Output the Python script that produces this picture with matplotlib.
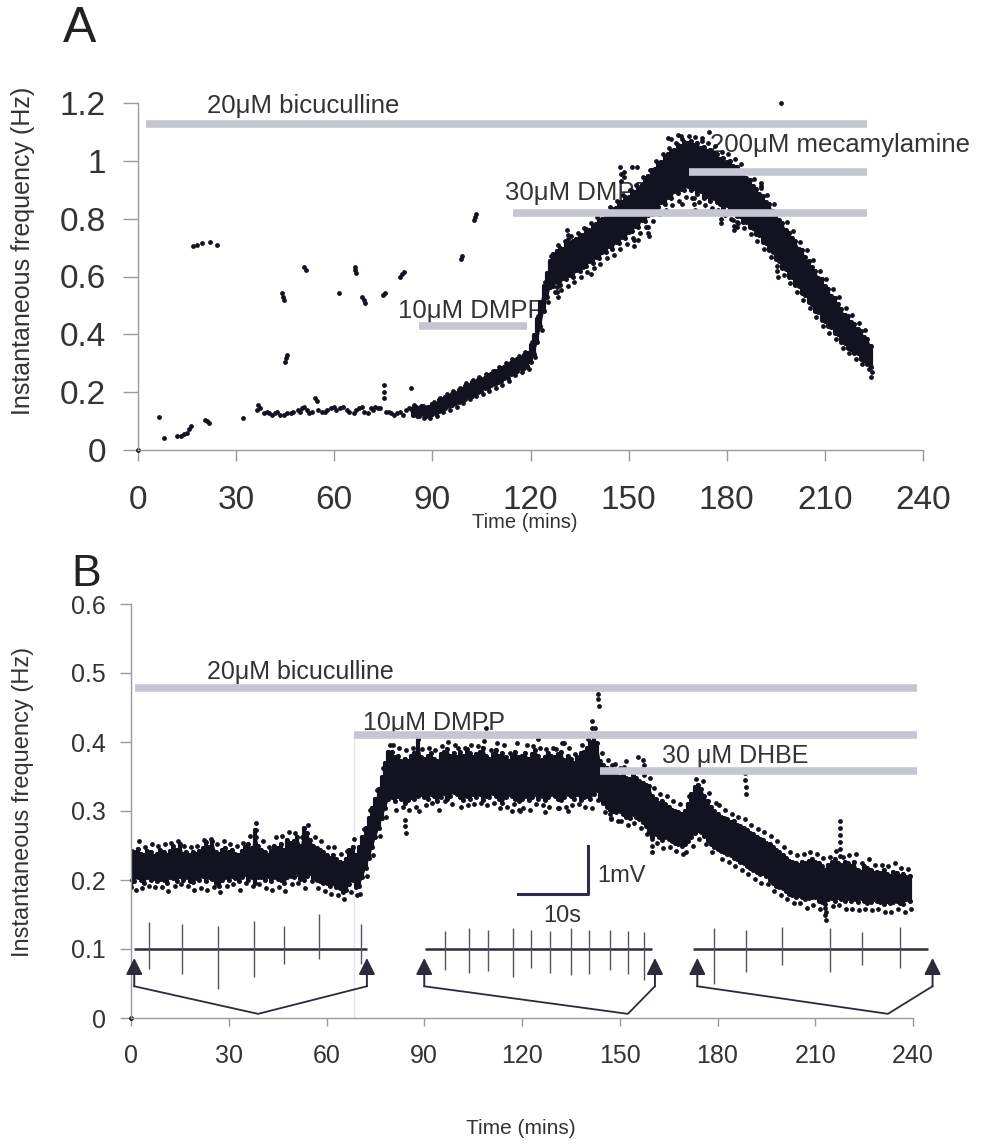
import matplotlib
matplotlib.use("Agg")
import matplotlib.pyplot as plt
import numpy as np

plt.rcParams["font.family"] = ["Liberation Sans", "DejaVu Sans"]

# ---------------- panel A ----------------
# continuous band, one column per minute from a_band_start (values in mHz)
a_band_start = 84
a_band_lo = [122, 128, 118, 124, 116, 122, 126, 128, 134, 142,
             146, 152, 156, 162, 166, 174, 176, 186, 188, 198,
             202, 204, 214, 216, 224, 228, 236, 238, 248, 250,
             262, 270, 272, 282, 282, 292, 305, 332, 372, 428, 482, 528, 562,
             568, 580, 572, 594, 590, 604, 600, 622, 618, 634,
             636, 654, 648, 668, 664, 684, 686, 704, 696, 718,
             716, 738, 734, 754, 756, 774, 772, 796, 792, 814,
             816, 834, 840, 856, 852, 874, 872, 894, 888, 904,
             900, 914, 898, 906, 884, 896, 872, 880, 862, 870,
             856, 852, 838, 846, 826, 830, 810, 808, 790, 788,
             770, 768, 748, 744, 720, 716, 690, 684, 660, 654,
             630, 626, 600, 598, 570, 566, 542, 536, 512, 506,
             482, 478, 450, 446, 428, 424, 404, 402, 372, 370,
             352, 350, 334, 336, 316, 312, 296, 286]
a_band_hi = [146, 150, 144, 152, 142, 150, 158, 160, 172, 176,
             184, 186, 194, 198, 206, 210, 222, 224, 234, 236,
             242, 246, 250, 260, 262, 272, 274, 284, 288, 298,
             302, 306, 314, 318, 328, 336, 362, 396, 452, 512, 566, 612, 652,
             678, 688, 700, 696, 712, 716, 724, 728, 745, 742,
             764, 760, 775, 782, 795, 798, 810, 818, 834, 838,
             856, 858, 874, 876, 894, 892, 910, 918, 940, 946,
             968, 972, 994, 996, 1014, 1022, 1034, 1036, 1056, 1050,
             1064, 1062, 1070, 1056, 1060, 1046, 1048, 1034, 1038, 1026,
             1024, 1006, 1010, 996, 998, 982, 978, 962, 958, 942,
             934, 912, 904, 886, 880, 856, 850, 826, 818, 796,
             784, 762, 752, 732, 722, 696, 690, 668, 652, 632,
             620, 596, 590, 566, 556, 532, 526, 504, 486, 468,
             464, 442, 436, 418, 410, 392, 384, 360]
# one stray event per minute just outside the band
a_band_extra = [156, 116, 152, 112, 150, 110, 166, 118, 180, 132,
                192, 140, 204, 150, 214, 164, 230, 176, 242, 186,
                252, 194, 262, 204, 274, 216, 286, 226, 300, 240,
                314, 258, 326, 270, 340, 280, 372, 320, 462, 415, 580, 512, 672,
                548, 710, 555, 722, 568, 740, 582, 750, 598, 768,
                614, 785, 628, 806, 642, 822, 664, 840, 676, 862,
                694, 882, 712, 900, 734, 918, 750, 944, 770, 970,
                792, 998, 816, 1024, 830, 1046, 848, 1060, 862, 1074,
                876, 1086, 870, 1082, 858, 1070, 848, 1062, 838, 1050,
                830, 1032, 812, 1022, 800, 1008, 786, 988, 766, 966,
                746, 938, 722, 912, 696, 882, 668, 852, 636, 822,
                606, 788, 578, 756, 548, 720, 518, 692, 490, 656,
                460, 620, 430, 590, 406, 556, 384, 528, 354, 490,
                334, 466, 316, 440, 298, 414, 280, 270]

# single events (time min, mHz)
a_early = [(0, 0), (6.4, 114), (7.8, 41), (12.0, 47), (13.0, 50), (14.0, 55),
           (15.0, 60), (15.6, 72), (16.2, 82), (20.5, 104), (21.0, 100),
           (21.7, 94), (32.2, 109)]
a_high = [(16.7, 705), (18.0, 709), (19.5, 715), (22.0, 720), (24.1, 709),
          (43.9, 542), (44.4, 530), (44.6, 520), (45.0, 305), (45.3, 317),
          (45.7, 328), (50.8, 634), (51.4, 622), (61.4, 542), (66.4, 634),
          (66.4, 622), (66.5, 611), (68.5, 530), (69.0, 518), (69.3, 507),
          (74.8, 536), (75.5, 542), (80.2, 600), (80.8, 610), (81.2, 617),
          (98.6, 659), (99.0, 671), (102.6, 797), (102.9, 806), (103.2, 815)]
a_base = [(36.3, 138), (36.8, 156), (37.4, 144), (38.4, 127), (39.4, 133),
          (40.2, 127), (41.0, 121), (41.8, 127), (42.6, 133), (43.5, 121),
          (44.7, 121), (45.5, 127), (46.7, 127), (47.5, 133), (48.8, 138),
          (49.5, 133), (50.1, 144), (50.8, 150), (51.6, 138), (52.3, 127),
          (53.2, 133), (54.2, 179), (54.6, 170), (55.0, 138), (56.2, 133),
          (57.2, 133), (57.8, 138), (59.0, 144), (59.8, 150), (60.5, 138),
          (61.8, 144), (62.6, 150), (63.9, 138), (64.6, 133), (65.9, 127),
          (66.8, 138), (67.5, 144), (68.5, 150), (69.0, 133), (70.2, 127),
          (71.1, 144), (71.8, 138), (72.5, 150), (73.3, 144), (74.1, 144),
          (75.1, 225), (75.1, 202), (75.2, 179), (75.8, 133), (76.6, 133),
          (77.4, 127), (78.2, 121), (79.2, 127), (80.2, 133), (80.9, 121),
          (81.8, 138), (82.8, 144), (83.5, 213), (83.8, 138)]
a_outliers = [(114.5, 310), (114.6, 300), (128.0, 565), (128.2, 545), (128.3, 530),
              (131.3, 760), (131.4, 745), (131.5, 730), (138.4, 610), (147.5, 980),
              (147.6, 955), (147.7, 930), (148.5, 960), (148.6, 945), (151.0, 980),
              (151.5, 726), (151.6, 705), (152.7, 980), (152.8, 726), (155.8, 750),
              (156.0, 770), (156.1, 740), (162.0, 1080), (163.0, 1075), (165.0, 1090),
              (166.0, 1085), (166.2, 850), (170.0, 870), (170.1, 850), (170.2, 830),
              (172.5, 1080), (174.5, 1100), (178.0, 820), (178.1, 800), (178.2, 785),
              (182.0, 795), (182.1, 775), (182.2, 760), (183.0, 790), (183.2, 770),
              (190.5, 925), (190.6, 905), (195.5, 620), (195.6, 600), (196.5, 1200),
              (224.0, 253)]

a_drugs = ["20μM bicuculline", "10μM DMPP", "30μM DMPP", "200μM mecamylamine"]
a_drug_on = [2.4, 86.0, 114.5, 168.4]
a_drug_off = [222.8, 118.8, 222.8, 222.8]
a_drug_level = [1.127, 0.429, 0.82, 0.961]
a_label_xy = [(21.0, 1.165), (79.6, 0.455), (112.3, 0.866), (175.0, 1.032)]

# ---------------- panel B ----------------
b_band_start = 0
b_band_lo = [190, 198, 205, 200, 196, 205, 200, 203, 198, 202,
             200, 195, 205, 203, 198, 206, 200, 204, 199, 197,
             203, 200, 206, 198, 205, 202, 196, 192, 200, 204,
             200, 206, 203, 198, 205, 208, 200, 204, 196, 205,
             204, 200, 206, 198, 205, 202, 200, 195, 204, 206,
             205, 208, 202, 200, 206, 210, 203, 200, 198, 196,
             195, 192, 196, 190, 188, 182, 186, 194, 200, 190,
             192, 205, 218, 232, 248, 262, 276, 290, 305, 318,
             320, 315, 322, 318, 312, 316, 320, 318, 322, 325,
             320, 318, 325, 322, 315, 320, 326, 318, 322, 328,
             324, 320, 316, 322, 318, 324, 320, 325, 316, 322,
             320, 326, 322, 318, 312, 320, 325, 322, 318, 314,
             318, 322, 316, 320, 324, 318, 322, 316, 320, 325,
             322, 318, 316, 320, 325, 322, 318, 324, 316, 320,
             322, 318, 325, 330, 318, 312, 306, 302, 300, 298,
             300, 296, 292, 290, 295, 292, 288, 284, 278, 270,
             262, 266, 262, 258, 262, 260, 256, 254, 252, 250,
             252, 256, 262, 268, 272, 270, 264, 258, 252, 248,
             245, 242, 240, 238, 236, 232, 230, 226, 224, 220,
             218, 214, 212, 208, 210, 206, 200, 196, 192, 190,
             188, 184, 180, 178, 176, 178, 175, 172, 174, 176,
             176, 170, 168, 165, 172, 174, 170, 176, 172, 170,
             174, 170, 172, 168, 174, 170, 166, 168, 172, 170,
             168, 165, 170, 166, 168, 170, 166, 165, 172, 170]
b_band_hi = [230, 240, 245, 238, 236, 242, 240, 235, 238, 244,
             240, 236, 242, 250, 244, 252, 238, 241, 236, 240,
             238, 242, 246, 255, 248, 256, 240, 238, 244, 246,
             240, 244, 238, 236, 242, 248, 252, 246, 272, 250,
             244, 240, 236, 242, 250, 246, 252, 244, 258, 254,
             256, 262, 250, 275, 268, 258, 250, 246, 244, 240,
             236, 232, 236, 230, 226, 224, 230, 244, 248, 236,
             248, 262, 275, 290, 305, 318, 332, 350, 370, 385,
             385, 378, 380, 372, 376, 372, 380, 384, 405, 378,
             376, 380, 384, 376, 372, 382, 386, 390, 380, 384,
             378, 386, 380, 390, 384, 378, 382, 386, 392, 380,
             376, 382, 388, 380, 384, 378, 372, 380, 386, 378,
             380, 384, 376, 382, 388, 380, 374, 378, 384, 380,
             378, 382, 386, 374, 380, 376, 370, 378, 384, 386,
             392, 400, 410, 398, 372, 366, 362, 360, 356, 354,
             350, 352, 348, 346, 352, 348, 344, 340, 338, 336,
             322, 318, 312, 314, 310, 306, 302, 300, 298, 296,
             300, 310, 325, 335, 338, 332, 322, 314, 306, 300,
             296, 292, 290, 288, 284, 286, 280, 278, 276, 272,
             268, 266, 262, 260, 258, 254, 252, 248, 244, 240,
             236, 232, 228, 226, 224, 222, 226, 224, 228, 230,
             226, 224, 220, 214, 222, 226, 230, 224, 222, 226,
             224, 220, 226, 214, 212, 220, 218, 214, 210, 212,
             210, 214, 208, 206, 212, 210, 206, 208, 204, 206]
b_band_extra = [242, 186, 256, 188, 248, 192, 252, 190, 250, 190,
                252, 184, 254, 192, 256, 194, 250, 192, 248, 186,
                250, 188, 258, 186, 260, 190, 252, 182, 256, 192,
                252, 194, 250, 186, 254, 196, 264, 192, 282, 194,
                256, 188, 248, 186, 262, 190, 264, 184, 270, 194,
                268, 196, 262, 188, 280, 198, 262, 188, 256, 184,
                248, 180, 248, 178, 238, 172, 242, 182, 260, 178,
                180, 274, 206, 302, 236, 330, 264, 362, 292, 396,
                396, 302, 392, 306, 388, 302, 392, 306, 300, 390,
                308, 392, 312, 388, 302, 394, 314, 400, 310, 396,
                392, 306, 392, 308, 396, 310, 394, 312, 402, 308,
                388, 312, 398, 304, 396, 306, 384, 310, 398, 300,
                304, 396, 302, 394, 310, 392, 308, 390, 306, 392,
                390, 304, 398, 306, 392, 308, 382, 310, 396, 306,
                404, 304, 420, 316, 384, 298, 374, 290, 368, 286,
                286, 364, 280, 358, 282, 360, 276, 352, 266, 348,
                334, 254, 324, 246, 322, 248, 314, 242, 310, 238,
                240, 322, 250, 346, 260, 344, 252, 326, 240, 312,
                308, 230, 302, 226, 296, 220, 292, 214, 288, 208,
                280, 202, 274, 196, 270, 194, 264, 184, 256, 178,
                248, 172, 240, 166, 236, 166, 238, 160, 240, 164,
                238, 158, 232, 154, 234, 162, 242, 164, 234, 158,
                236, 158, 238, 156, 224, 158, 230, 156, 222, 158,
                222, 153, 220, 154, 224, 158, 218, 153, 216, 158]
b_dots = [(0, 0), (0.3, 200), (38.4, 272), (38.5, 262), (53.0, 275), (53.2, 265),
          (84.1, 287), (84.2, 278), (84.3, 268), (88.0, 405), (103.0, 410),
          (109.0, 420), (116.0, 410), (125.0, 405), (133.0, 398),
          (117.0, 300), (119.0, 302), (127.0, 298), (131.0, 305), (134.0, 300),
          (141.4, 430), (141.5, 420), (141.6, 410), (143.3, 470), (143.4, 462),
          (143.5, 452), (147.0, 296), (147.2, 288), (147.5, 366), (150.0, 362),
          (152.0, 372), (155.5, 378), (157.0, 374), (157.5, 366),
          (159.8, 260), (159.9, 250), (160.0, 240),
          (188.5, 355), (188.5, 345), (188.7, 335), (188.7, 325),
          (213.0, 160), (213.1, 150), (213.2, 142),
          (217.5, 285), (217.5, 275), (217.6, 265), (217.6, 255), (217.7, 245),
          (217.7, 235)]

b_drugs = ["20μM bicuculline", "10μM DMPP", "30 μM DHBE"]
b_drug_on = [1.2, 68.4, 144.0]
b_drug_off = [241.3, 241.3, 241.3]
b_drug_level = [0.478, 0.41, 0.358]
b_label_xy = [(23.3, 0.4915), (71.3, 0.418), (163.0, 0.369)]

# recorded traces below the plot (time span, spike times, spike up/down in Hz)
trace_on = [1.0, 90.2, 172.5]
trace_off = [72.4, 160.0, 244.6]
spike_t = [[5.6, 15.8, 26.8, 37.8, 47.1, 57.7, 70.7],
           [96.5, 103.7, 109.5, 117.3, 122.9, 128.7, 134.9, 140.7, 146.9, 152.5, 157.5],
           [178.8, 188.7, 199.8, 214.4, 224.3, 236.0]]
spike_up = [[0.039, 0.036, 0.034, 0.041, 0.034, 0.051, 0.036],
            [0.026, 0.030, 0.028, 0.030, 0.027, 0.026, 0.030, 0.028, 0.027, 0.026, 0.025],
            [0.030, 0.028, 0.032, 0.030, 0.025, 0.032]]
spike_dn = [[0.029, 0.036, 0.058, 0.041, 0.022, 0.014, 0.022],
            [0.030, 0.035, 0.032, 0.040, 0.028, 0.035, 0.038, 0.036, 0.030, 0.036, 0.045],
            [0.050, 0.033, 0.023, 0.033, 0.023, 0.028]]
arrow_mid = [39.0, 152.5, 232.3]
arrow_left = [1.0, 90.0, 173.8]
arrow_right = [72.4, 160.8, 246.0]

x_ticks = [0, 30, 60, 90, 120, 150, 180, 210, 240]

DOT = "#121220"
BAR = "#c5c6d3"
TXT = "#333333"
GRID = "#9a9a9a"

W, H = 982, 1147
fig = plt.figure(figsize=(9.82, 11.47), dpi=100)
axA = fig.add_axes([138 / W, 1 - 450 / H, 785 / W, 347 / H])
axB = fig.add_axes([131 / W, 1 - 1018 / H, 782 / W, 414 / H])

for ax in (axA, axB):
    ax.spines[["top", "right"]].set_visible(False)
    for s in ("left", "bottom"):
        ax.spines[s].set_color(GRID)
        ax.spines[s].set_linewidth(1.0)
    ax.set_xlim(0, 240)
    ax.set_xticks(x_ticks)
    ax.tick_params(colors=GRID, labelcolor=TXT, direction="out", width=1)


def draw_band(ax, start, lo, hi, extra, lw):
    t = np.arange(start, start + len(lo))
    lo = np.array(lo) / 1000
    hi = np.array(hi) / 1000
    ax.fill_between(t, lo, hi, color=DOT, lw=0, zorder=2)
    ax.vlines(t, lo, hi, colors=DOT, linewidth=lw, capstyle="round", zorder=2)
    ax.scatter(np.r_[t, t], np.r_[lo, hi], s=13, color=DOT, lw=0, zorder=2)
    ax.scatter(t + 0.4, np.array(extra) / 1000, s=12, color=DOT, lw=0, zorder=2)


def draw_dots(ax, pts):
    t, f = zip(*pts)
    ax.scatter(t, np.array(f) / 1000, s=12, color=DOT, lw=0, zorder=2, clip_on=False)


# ---- A ----
axA.set_ylim(0, 1.2)
axA.set_yticks([0, 0.2, 0.4, 0.6, 0.8, 1.0, 1.2])
axA.set_yticklabels(["0", "0.2", "0.4", "0.6", "0.8", "1", "1.2"])
axA.tick_params(axis="x", length=8, pad=17, labelsize=24)
axA.tick_params(axis="y", length=11, pad=12, labelsize=24)

draw_band(axA, a_band_start, a_band_lo, a_band_hi, a_band_extra, 3.0)
for pts in (a_early, a_high, a_base, a_outliers):
    draw_dots(axA, pts)
axA.hlines(a_drug_level, a_drug_on, a_drug_off, colors=BAR, linewidth=5.5, zorder=3)
for name, (tx, ty) in zip(a_drugs, a_label_xy):
    axA.text(tx, ty, name, fontsize=18.5, color=TXT, va="baseline", zorder=1)

# ---- B ----
axB.set_ylim(0, 0.6)
axB.set_yticks([0, 0.1, 0.2, 0.3, 0.4, 0.5, 0.6])
axB.set_yticklabels(["0", "0.1", "0.2", "0.3", "0.4", "0.5", "0.6"])
axB.tick_params(axis="x", length=6, pad=13, labelsize=18)
axB.tick_params(axis="y", length=8, pad=10, labelsize=18)

axB.vlines(b_drug_on[1], 0, b_drug_level[1], colors="#e6e6ec", linewidth=1, zorder=0)
draw_band(axB, b_band_start, b_band_lo, b_band_hi, b_band_extra, 3.0)
draw_dots(axB, b_dots)
axB.hlines(b_drug_level, b_drug_on, b_drug_off, colors=BAR, linewidth=5.5,
           zorder=3, clip_on=False)
for name, (tx, ty) in zip(b_drugs, b_label_xy):
    axB.text(tx, ty, name, fontsize=18, color=TXT, va="baseline", zorder=1)

# traces
for i in range(3):
    axB.hlines(0.1, trace_on[i], trace_off[i], colors="#2b2b3d", linewidth=1.8,
               zorder=4, clip_on=False)
    st = np.array(spike_t[i])
    axB.vlines(st, 0.1 - np.array(spike_dn[i]), 0.1 + np.array(spike_up[i]),
               colors="#55555f", linewidth=1.0, zorder=4)
    axB.plot([arrow_left[i], arrow_mid[i], arrow_right[i]], [0.046, 0.006, 0.046],
             color="#2b2b3d", lw=1.3, zorder=4, clip_on=False)
    for xa in (arrow_left[i], arrow_right[i]):
        axB.annotate("", xy=(xa, 0.087), xytext=(xa, 0.046),
                     arrowprops=dict(arrowstyle="-|>,head_length=1.0,head_width=0.5",
                                     color="#2b2b3d", lw=1.4, shrinkA=0, shrinkB=0),
                     annotation_clip=False, zorder=5)

# scale bar
axB.plot([118.8, 140.3, 140.3], [0.179, 0.179, 0.25], color="#2a2a55", lw=2.2, zorder=4)
axB.text(143, 0.206, "1mV", fontsize=17, color=TXT, va="center")
axB.text(132.5, 0.148, "10s", fontsize=17, color=TXT, va="center", ha="center")

# axis titles and panel letters
fig.text(23 / W, 1 - 251 / H, "Instantaneous frequency (Hz)", rotation=90,
         ha="center", va="center", fontsize=18, color=TXT)
fig.text(23 / W, 1 - 802 / H, "Instantaneous frequency (Hz)", rotation=90,
         ha="center", va="center", fontsize=17, color=TXT)
fig.text(525 / W, 1 - 523 / H, "Time (mins)", ha="center", va="center",
         fontsize=14.5, color=TXT)
fig.text(521 / W, 1 - 1128 / H, "Time (mins)", ha="center", va="center",
         fontsize=15, color=TXT)
fig.text(80 / W, 1 - 29 / H, "A", ha="center", va="center", fontsize=36, color="#222222")
fig.text(86 / W, 1 - 575 / H, "B", ha="center", va="center", fontsize=32, color="#222222")

fig.savefig("out.png", dpi=100)
